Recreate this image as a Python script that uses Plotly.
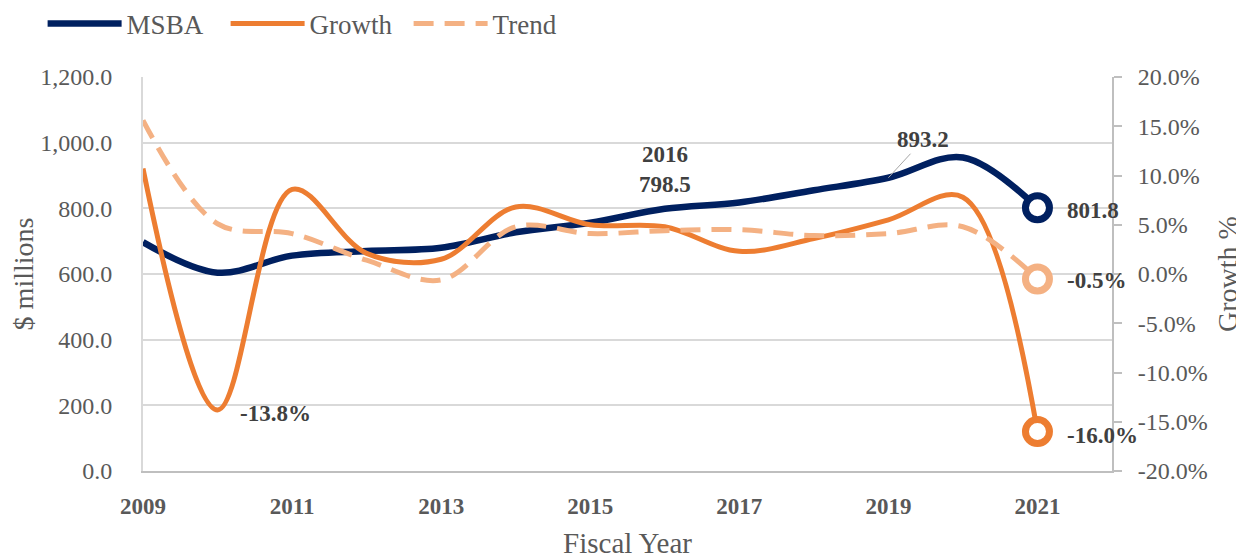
import plotly.graph_objects as go

years = [2009, 2010, 2011, 2012, 2013, 2014, 2015, 2016, 2017, 2018, 2019, 2020, 2021]
msba = [697, 604, 656, 670, 680, 727, 756, 798.5, 818, 855, 893.2, 955, 801.8]
growth = [10.7, -13.8, 8.6, 2.1, 1.5, 6.8, 5.0, 4.8, 2.3, 3.6, 5.5, 7.8, -16.0]
trend = [15.6, 5.1, 4.1, 1.4, -0.6, 4.8, 4.1, 4.4, 4.5, 3.9, 4.1, 4.8, -0.5]
x_ticks = [2009, 2011, 2013, 2015, 2017, 2019, 2021]
pct_ticks = [-20, -15, -10, -5, 0, 5, 10, 15, 20]

NAVY = "#002060"
ORANGE = "#ED7D31"
LIGHT = "#F4B183"
GRAY = "#595959"
DARK = "#404040"
FONT = "Liberation Serif"

growth_f = [g / 100 for g in growth]
trend_f = [t / 100 for t in trend]

fig = go.Figure()
fig.add_trace(go.Scatter(x=years, y=msba, name="MSBA", mode="lines",
                         line=dict(color=NAVY, width=6.5, shape="spline", smoothing=1.0),
                         yaxis="y"))
fig.add_trace(go.Scatter(x=years, y=growth_f, name="Growth", mode="lines",
                         line=dict(color=ORANGE, width=5, shape="spline", smoothing=1.0),
                         yaxis="y2"))
fig.add_trace(go.Scatter(x=years, y=trend_f, name="Trend", mode="lines",
                         line=dict(color=LIGHT, width=5, shape="spline", smoothing=1.0,
                                   dash="20px,11px"),
                         yaxis="y2"))
# end markers
fig.add_trace(go.Scatter(x=[years[-1]], y=[msba[-1]], mode="markers", showlegend=False,
                         marker=dict(symbol="circle", size=24, color="white",
                                     line=dict(color=NAVY, width=7)), yaxis="y"))
fig.add_trace(go.Scatter(x=[years[-1]], y=[growth_f[-1]], mode="markers", showlegend=False,
                         marker=dict(symbol="circle", size=24, color="white",
                                     line=dict(color=ORANGE, width=7)), yaxis="y2"))
fig.add_trace(go.Scatter(x=[years[-1]], y=[trend_f[-1]], mode="markers", showlegend=False,
                         marker=dict(symbol="circle", size=24, color="white",
                                     line=dict(color=LIGHT, width=7)), yaxis="y2"))

lab_font = dict(family=FONT, size=23, color=DARK, weight="bold")
ann = [
    dict(x=2016, y=msba[7], yref="y", text=f"2016<br>{msba[7]:.1f}", showarrow=False,
         yanchor="bottom", yshift=10, font=lab_font),
    dict(x=2019, y=msba[10], yref="y", text=f"{msba[10]:.1f}", showarrow=True,
         arrowhead=0, arrowcolor="#A6A6A6", arrowwidth=1, ax=35, ay=-38, font=lab_font),
    dict(x=2021, y=msba[12], yref="y", text=f"{msba[12]:.1f}", showarrow=False,
         xanchor="left", xshift=28, yshift=-3, font=lab_font),
    dict(x=2021, y=trend_f[12], yref="y2", text=f"{trend[12]:.1f}%", showarrow=False,
         xanchor="left", xshift=28, yshift=-2, font=lab_font),
    dict(x=2021, y=growth_f[12], yref="y2", text=f"{growth[12]:.1f}%", showarrow=False,
         xanchor="left", xshift=28, yshift=-4, font=lab_font),
    dict(x=2010, y=growth_f[1], yref="y2", text=f"{growth[1]:.1f}%", showarrow=False,
         xanchor="left", xshift=20, yshift=-4, font=lab_font),
]

# page body has an 8px default margin, so the figure is drawn 8px in from the top-left
fig.update_layout(
    width=1236, height=551,
    margin=dict(l=135, r=132, t=69, b=88, autoexpand=False),
    paper_bgcolor="white", plot_bgcolor="white",
    font=dict(family=FONT, color=GRAY),
    showlegend=True,
    legend=dict(orientation="h", xref="container", x=0.028, xanchor="left",
                yref="container", y=0.971, yanchor="middle",
                font=dict(family=FONT, size=27, color=GRAY), entrywidth=94,
                itemwidth=74, bgcolor="rgba(0,0,0,0)"),
    annotations=ann,
    xaxis=dict(range=[2009, 2022], tickvals=x_ticks, ticktext=[str(t) for t in x_ticks],
               showgrid=False, showline=True, linecolor="#BFBFBF", linewidth=2,
               zeroline=False, ticks="", ticklabelstandoff=13, automargin=False,
               tickfont=dict(family=FONT, size=23, color=GRAY, weight="bold"),
               title=dict(text="Fiscal Year", font=dict(family=FONT, size=29, color=GRAY),
                          standoff=17)),
    yaxis=dict(range=[0, 1200], dtick=200, tickformat=",.1f", showgrid=True,
               gridcolor="#D9D9D9", gridwidth=2, showline=True, linecolor="#D9D9D9",
               linewidth=2, zeroline=False, ticks="", ticklabelstandoff=24, automargin=False,
               tickfont=dict(family=FONT, size=24, color=GRAY),
               title=dict(text="$ millions", font=dict(family=FONT, size=28, color=GRAY),
                          standoff=10)),
    yaxis2=dict(range=[-0.2, 0.2], tickvals=[p / 100 for p in pct_ticks],
                ticktext=[f"{p:.1f}%" for p in pct_ticks], overlaying="y",
                side="right", showgrid=False, showline=True, linecolor="#BFBFBF",
                linewidth=2, zeroline=False, ticks="outside", ticklen=8, automargin=False,
                tickcolor="#BFBFBF", tickwidth=2, ticklabelstandoff=11,
                tickfont=dict(family=FONT, size=24, color=GRAY),
                title=dict(text="Growth %", font=dict(family=FONT, size=28, color=GRAY),
                           standoff=11)),
)

fig.write_html("out.html")
